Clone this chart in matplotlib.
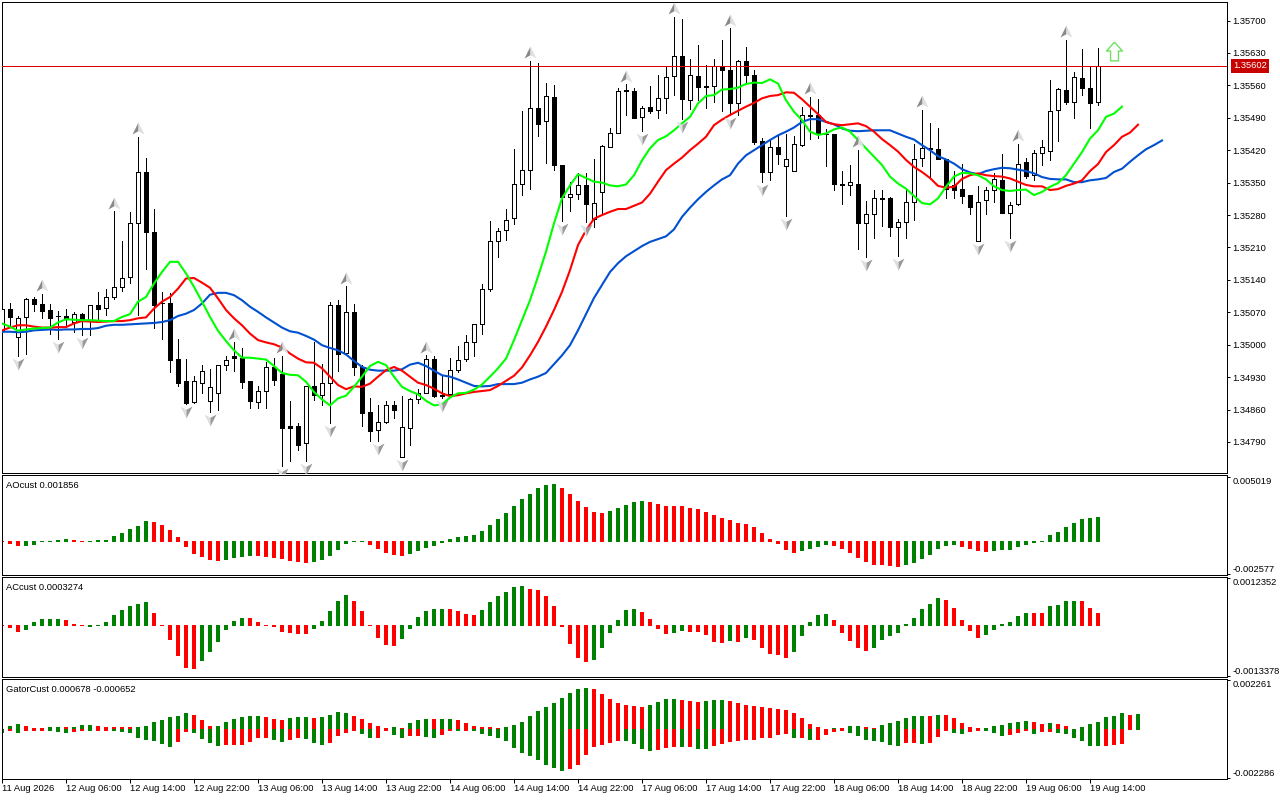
import matplotlib
matplotlib.use('Agg')
import matplotlib.pyplot as plt
from matplotlib.path import Path
import numpy as np

# candles, in 1e-5 price units
opens = [135031,135078,135016,135059,135098,135087,135074,135063,135063,135049,135067,135053,135085,135080,135103,135124,135147,135262,135372,135243,
         135091,135089,134969,134921,134877,134918,134879,134896,134957,134975,134972,134921,134877,134899,134951,134936,134824,134825,134787,134910,
         134892,134918,135085,134983,135070,134952,134854,134815,134833,134869,134758,134821,134882,134896,134970,134890,134893,134946,134969,135005,
         135044,135121,135223,135247,135273,135348,135378,135512,135482,135534,135387,135319,135326,135344,135272,135329,135426,135458,135549,135547,
         135491,135514,135506,135532,135581,135624,135529,135581,135558,135558,135601,135594,135521,135612,135583,135439,135372,135426,135385,135376,
         135431,135497,135497,135455,135455,135348,135345,135348,135263,135283,135316,135316,135255,135266,135309,135404,135424,135422,135402,135345,
         135336,135323,135224,135313,135335,135355,135285,135303,135394,135366,135413,135419,135506,135551,135525,135575,135555,135523]
closes = [135078,135060,135057,135098,135087,135073,135058,135061,135056,135067,135053,135085,135077,135102,135124,135145,135262,135372,135244,135086,
          135090,134967,134918,134875,134921,134944,134908,134957,134968,134972,134919,134879,134899,134951,134923,134820,134821,134783,134910,134892,
          134918,135085,134981,135070,134952,134853,134814,134834,134869,134859,134823,134882,134896,134970,134890,134892,134946,134968,135005,135044,
          135121,135223,135245,135270,135346,135378,135512,135477,135536,135388,135319,135326,135344,135303,135307,135429,135458,135547,135547,135490,
          135511,135505,135532,135579,135624,135531,135583,135557,135557,135601,135594,135521,135612,135583,135437,135373,135426,135412,135400,135434,
          135497,135494,135455,135454,135347,135345,135352,135263,135283,135316,135314,135255,135266,135309,135402,135424,135422,135400,135337,135335,
          135321,135298,135309,135333,135357,135285,135301,135391,135364,135413,135426,135504,135553,135524,135577,135555,135522,135602]
highs = [135078,135089,135062,135100,135103,135109,135088,135072,135077,135070,135069,135085,135113,135120,135288,135224,135286,135448,135404,135294,
         135113,135111,135012,134969,134933,134957,134947,134957,134975,135005,134992,134921,134910,134963,134971,134975,134878,134832,134911,135006,
         134959,135093,135096,135126,135087,134956,134886,134869,134878,134878,134890,134884,134905,134977,134975,134934,134972,134997,135021,135044,
         135131,135267,135253,135293,135422,135504,135612,135609,135566,135560,135389,135352,135370,135370,135402,135431,135467,135555,135562,135555,
         135516,135558,135582,135600,135707,135704,135616,135647,135605,135618,135658,135683,135614,135642,135594,135447,135445,135452,135456,135450,
         135514,135535,135530,135465,135455,135375,135388,135420,135310,135334,135334,135318,135271,135334,135433,135507,135479,135467,135402,135376,
         135391,135323,135342,135340,135370,135412,135309,135433,135404,135420,135443,135571,135555,135658,135588,135638,135600,135640]
lows = [135031,135042,134976,134979,135073,135058,135024,135012,135039,135028,135021,135021,135053,135064,135098,135116,135134,135064,135163,135036,
        135012,134941,134911,134872,134875,134896,134855,134859,134945,134943,134907,134864,134863,134864,134913,134738,134748,134772,134749,134880,
        134869,134831,134944,134983,134934,134825,134792,134792,134831,134841,134758,134783,134874,134895,134887,134884,134887,134941,134965,134975,
        135024,135116,135190,135226,135260,135323,135336,135451,135393,135377,135267,135289,135314,135265,135254,135283,135426,135458,135496,135490,
        135461,135501,135490,135501,135539,135487,135510,135528,135511,135524,135504,135496,135497,135564,135433,135352,135355,135391,135277,135376,
        135429,135444,135447,135386,135334,135304,135323,135206,135190,135231,135257,135235,135192,135231,135269,135386,135361,135400,135317,135316,
        135306,135282,135224,135283,135309,135285,135231,135301,135361,135355,135388,135398,135439,135520,135490,135539,135468,135518]

# alligator lines, in 1e-5 price units
jaw = [135028,135028,135027,135028,135031,135032,135033,135032,135033,135033,135034,135034,135036,135041,135043,135043,135044,135045,135046,135047,
       135049,135053,135062,135067,135075,135089,135108,135112,135112,135107,135096,135082,135071,135059,135048,135037,135029,135026,135019,135011,
       134999,134993,134988,134979,134965,134952,134946,134944,134944,134944,134947,134957,134961,134954,134944,134934,134931,134925,134918,134911,
       134910,134911,134915,134915,134915,134918,134925,134931,134939,134958,134977,134999,135031,135066,135101,135129,135157,135176,135191,135202,
       135213,135222,135228,135234,135249,135276,135296,135314,135330,135344,135357,135366,135391,135409,135420,135431,135442,135452,135460,135469,
       135481,135487,135487,135481,135476,135467,135462,135461,135462,135463,135463,135463,135456,135449,135443,135431,135420,135407,135400,135391,
       135379,135372,135368,135375,135379,135382,135381,135378,135375,135370,135362,135358,135357,135357,135351,135351,135355,135357,135360,135373,
       135380,135395,135409,135422,135431,135441]
teeth = [135031,135037,135042,135042,135039,135037,135037,135038,135038,135046,135051,135050,135049,135050,135051,135051,135053,135057,135059,135078,
         135093,135103,135121,135143,135144,135134,135123,135100,135075,135057,135042,135024,135010,135005,135001,134994,134981,134970,134962,134961,
         134949,134931,134913,134904,134910,134909,134916,134931,134945,134952,134944,134931,134918,134913,134905,134895,134889,134891,134895,134898,
         134900,134902,134911,134922,134933,134951,134977,135006,135039,135075,135114,135161,135215,135247,135272,135280,135287,135293,135293,135300,
         135307,135326,135352,135377,135391,135404,135420,135434,135449,135474,135486,135496,135505,135514,135522,135532,135537,135539,135545,135544,
         135530,135514,135498,135481,135476,135474,135476,135478,135472,135460,135444,135431,135417,135399,135384,135373,135360,135343,135339,135341,
         135358,135366,135370,135366,135364,135363,135359,135352,135345,135342,135342,135334,135336,135343,135348,135355,135375,135390,135416,135431,
         135449,135458,135475]
lips = [135046,135039,135030,135033,135035,135036,135037,135048,135055,135054,135053,135053,135052,135051,135051,135060,135066,135093,135103,135132,
        135157,135179,135179,135154,135125,135093,135060,135030,135008,134988,134972,134972,134970,134968,134954,134939,134935,134934,134920,134898,
        134882,134869,134884,134890,134909,134931,134954,134963,134956,134931,134909,134900,134893,134879,134869,134871,134886,134895,134896,134903,
        134914,134931,134949,134970,135010,135053,135096,135147,135201,135262,135316,135344,135368,135360,135352,135350,135344,135342,135346,135366,
        135398,135424,135442,135450,135463,135478,135492,135521,135537,135539,135551,135552,135555,135563,135566,135565,135573,135564,135528,135503,
        135485,135460,135453,135456,135465,135469,135460,135442,135424,135406,135388,135363,135348,135337,135321,135306,135303,135316,135341,135363,
        135371,135370,135366,135357,135342,135334,135332,135334,135335,135323,135330,135341,135349,135366,135391,135416,135445,135463,135492,135499,
        135514]

# fractal arrows, candle numbers
fractal_up = [5,14,17,29,35,43,53,66,78,84,91,101,107,115,127,133]
fractal_down = [2,7,10,23,26,35,38,41,47,50,55,70,73,80,85,91,95,98,108,112,122,126]
signal_k = 139
signal_price = 1.35635
last_price = 1.35602

price_ticks = [1.35700,1.35630,1.35560,1.35490,1.35420,1.35350,1.35280,1.35210,1.35140,1.35070,1.35000,1.34930,1.34860,1.34790]
time_labels = ['11 Aug 2026','12 Aug 06:00','12 Aug 14:00','12 Aug 22:00','13 Aug 06:00','13 Aug 14:00','13 Aug 22:00',
               '14 Aug 06:00','14 Aug 14:00','14 Aug 22:00','17 Aug 06:00','17 Aug 14:00','17 Aug 22:00',
               '18 Aug 06:00','18 Aug 14:00','18 Aug 22:00','19 Aug 06:00','19 Aug 14:00']

# AO histogram, in 1e-6
ao_values = [-26,-131,-314,-288,-209,-26,26,52,157,52,-26,26,52,52,393,628,942,1178,1571,1492,
             1257,864,314,-393,-942,-1178,-1414,-1492,-1414,-1257,-1178,-1100,-1100,-1178,-1257,-1335,-1492,-1571,-1649,-1571,
             -1414,-1100,-628,-157,-26,-26,-236,-550,-864,-1021,-1100,-942,-707,-471,-314,-52,157,314,393,471,
             785,1257,1728,2199,2749,3299,3691,4163,4398,4477,4163,3691,3142,2670,2278,2199,2356,2592,2827,3063,
             3142,3063,2906,2749,2749,2749,2592,2513,2278,2042,1806,1649,1414,1335,1100,628,157,-157,-628,-864,
             -707,-550,-393,-236,-314,-550,-864,-1257,-1571,-1806,-1806,-1885,-1964,-1806,-1649,-1335,-1021,-550,-314,-236,
             -393,-550,-707,-785,-707,-628,-628,-393,-236,-52,26,471,707,1100,1414,1728,1806,1856]
ao_colors = 'rrr'+'g'*6+'rr'+'g'*8+'r'*9+'g'*4+'r'*7+'g'*7+'r'*5+'g'*19+'r'*6+'g'*5+'r'*19+'g'*4+'r'*9+'g'*7+'r'*4+'g'*14

# AC histogram, in 1e-7
ac_values = [87,-436,-1484,-960,786,1571,1571,1571,1310,175,-87,-262,-87,786,2619,3929,4976,5500,6024,3143,
             -87,-3667,-7857,-11000,-11262,-9167,-6809,-4190,-1048,1048,1833,1833,786,-87,-175,-1571,-1833,-2095,-2095,-786,
             1048,3667,6286,7857,6286,3667,-87,-3143,-4976,-5238,-3405,-786,2095,3667,4190,4190,4190,3667,2881,2619,
             3929,6024,7595,8643,9952,10214,9428,9167,7595,4976,-175,-4714,-8381,-9428,-8905,-5762,-1833,1310,3929,4190,
             3405,1571,-786,-2095,-1833,-1310,-1571,-1571,-2357,-4190,-4452,-3929,-4190,-3143,-3667,-5762,-7333,-7595,-8381,-6809,
             -2619,786,2619,2881,1310,-1833,-3929,-5762,-6548,-5762,-3667,-2619,-1833,175,1833,4190,5500,7071,6548,4452,
             1310,-1310,-3143,-2357,-1048,175,786,2357,3143,3143,3143,4976,5238,6286,6286,6286,4452,3274]
ac_colors = 'rrr'+'g'*5+'rrr'+'g'*8+'r'*6+'g'*6+'r'*8+'g'*5+'r'*6+'g'*6+'r'*4+'g'*6+'r'*8+'g'*6+'r'*4+'gg'+'r'*5+'grg'+'r'*5+'g'*5+'r'*5+'g'*9+'r'*5+'g'*6+'rr'+'g'*4+'rrr'

# Gator histogram, in 1e-6
gator_up = [0,139,232,139,46,46,93,93,93,93,186,186,139,93,93,93,93,93,139,325,
            418,557,603,743,650,418,139,139,325,464,557,603,603,557,464,418,511,557,557,511,
            557,650,789,743,603,464,278,139,46,93,46,278,418,464,464,464,464,418,278,139,
            93,93,46,93,186,325,603,835,1021,1207,1439,1671,1856,1903,1856,1624,1392,1207,1114,1067,
            1021,1114,1253,1392,1392,1346,1299,1253,1299,1346,1346,1299,1207,1114,1067,1021,975,928,882,743,
            511,232,93,0,46,46,139,139,93,46,186,278,371,511,603,603,603,650,650,511,
            278,93,46,46,139,186,278,325,371,325,232,278,232,139,0,93,232,325,557,603,
            743,650,678]
gator_up_colors = 'ggg'+'rrr'+'gg'+'r'+'ggg'+'r'*5+'g'*7+'rrr'+'g'*6+'rrr'+'ggg'+'r'+'gggg'+'r'*5+'grggg'+'r'+'gg'+'r'*6+'g'*11+'r'*7+'gggg'+'rrr'+'ggg'+'r'*13+'grgg'+'rr'+'g'*6+'rg'+'r'*5+'g'*6+'rr'+'g'+'rr'+'g'*7+'rg'
gator_down = [-139,-46,-139,-46,-46,-46,-46,-93,-139,-93,-46,-46,-46,-46,-46,-93,-139,-371,-464,-511,
              -650,-789,-557,-93,-139,-418,-603,-743,-696,-696,-696,-557,-371,-371,-464,-557,-464,-371,-418,-603,
              -696,-603,-278,-139,-46,-186,-371,-371,-46,-232,-371,-278,-278,-325,-371,-232,-46,-46,-46,-46,
              -186,-278,-371,-511,-835,-1067,-1207,-1392,-1624,-1763,-1903,-1810,-1624,-1160,-789,-696,-603,-511,-511,-650,
              -882,-975,-928,-835,-789,-789,-789,-882,-882,-743,-650,-557,-511,-464,-464,-371,-371,-232,-186,-371,
              -371,-464,-464,-232,-93,-46,-139,-278,-464,-511,-557,-696,-743,-603,-603,-650,-603,-325,-46,-139,
              -186,-93,-46,-46,-139,-278,-232,-139,-46,-186,-93,-93,-139,-186,-371,-511,-743,-743,-743,-696,
              -652,0,0]
gator_down_colors = 'grg'+'rrr'+'ggg'+'rr'+'g'+'rr'+'g'*8+'rr'+'gggg'+'r'*6+'gg'+'rr'+'ggg'+'rrrr'+'gg'+'rr'+'gg'+'rr'+'gg'+'rr'+'g'+'r'+'g'*12+'r'*7+'gggg'+'rrr'+'g'+'r'+'gg'+'r'*10+'g'+'r'+'g'+'rrrr'+'g'*7+'rr'+'g'+'rrr'+'gg'+'rr'+'ggg'+'rrr'+'g'+'rr'+'g'*6+'rrr'+'gg'

FONT = 'Liberation Sans'
FS = 6.75
W, H = 1280, 800
LW = 0.72
palette = {'g': '#008000', 'r': '#ff0000'}

plt.rcParams['font.family'] = FONT
fig = plt.figure(figsize=(W / 100, H / 100), dpi=100, facecolor='white')


def panel(top, bottom):
    ax = fig.add_axes([2 / W, 1 - bottom / H, 1225 / W, (bottom - top) / H])
    ax.set_xlim(0, 1225 / 8)
    ax.set_xticks([])
    ax.yaxis.tick_right()
    ax.tick_params(axis='y', length=2.2, width=LW, pad=1.9, labelsize=FS, color='black')
    for s in ax.spines.values():
        s.set_linewidth(LW)
    return ax


def histogram(ax, values, colors):
    # bars sit one pixel left of the candle centre, the stroke keeps tiny values visible
    values = np.array(values, dtype=float)
    k = np.arange(len(values))
    keep = values != 0
    cols = [palette[c] for c in np.array(list(colors))[keep]]
    ax.bar(k[keep] - 0.0625, values[keep], width=0.375, color=cols, edgecolor=cols, linewidth=LW, antialiased=False)


def limits(ax, top_value, bottom_value, top_text, bottom_text):
    ax.set_yticks([bottom_value, top_value], [bottom_text, top_text])
    labels = ax.get_yticklabels()
    labels[0].set_verticalalignment('bottom')
    labels[1].set_verticalalignment('top')


def caption(ax, text):
    ax.annotate(text, xy=(0, 1), xycoords='axes fraction', xytext=(2.7, -4.0), textcoords='offset points',
                va='top', ha='left', fontsize=FS, color='black')


# main chart
ax = panel(2, 473)
ax.set_ylim(1.34723, 1.35740)

o = np.array(opens) * 1e-5
c = np.array(closes) * 1e-5
hi = np.array(highs) * 1e-5
lo = np.array(lows) * 1e-5
k = np.arange(len(o))
ax.vlines(k, lo, hi, color='black', linewidth=LW, antialiased=False, zorder=2)
is_up = c >= o
ax.bar(k, np.abs(c - o), bottom=np.minimum(o, c), width=0.5,
       color=['white' if u else 'black' for u in is_up], edgecolor='black', linewidth=LW, antialiased=False, zorder=3)

ax.axhline(last_price, color='#e00000', linewidth=LW, zorder=4)

for line, color in [(jaw, '#0050d0'), (teeth, '#ff0000'), (lips, '#00ff00')]:
    ax.plot(np.arange(len(line)), np.array(line) * 1e-5, color=color, linewidth=1.5, zorder=5)

up_left = Path([(0, 1), (-1, -1), (0, -0.45), (0, 1)])
up_right = Path([(0, 1), (1, -1), (0, -0.45), (0, 1)])
down_left = Path([(0, -1), (-1, 1), (0, 0.45), (0, -1)])
down_right = Path([(0, -1), (1, 1), (0, 0.45), (0, -1)])
y_up = hi[fractal_up] + 19e-5
y_down = lo[fractal_down] - 17e-5
for mk, col, xs, ys in [(up_left, '#8c8884', fractal_up, y_up), (up_right, '#dcdfe3', fractal_up, y_up),
                        (down_left, '#dcdfe3', fractal_down, y_down), (down_right, '#9a9a9a', fractal_down, y_down)]:
    ax.plot(xs, ys, linestyle='none', marker=mk, markersize=8.6, markerfacecolor=col, markeredgewidth=0, zorder=6)

arrow = Path([(0, 1), (0.85, 0.05), (0.42, 0.05), (0.42, -1), (-0.42, -1), (-0.42, 0.05), (-0.85, 0.05), (0, 1)])
ax.plot([signal_k], [signal_price], linestyle='none', marker=arrow, markersize=13.5,
        markerfacecolor='white', markeredgecolor='#70e060', markeredgewidth=1.0, zorder=6)

ax.set_yticks(price_ticks, ['%.5f' % p for p in price_ticks])
ax.annotate('%.5f' % last_price, xy=(1, last_price), xycoords=('axes fraction', 'data'), xytext=(4.3, 0),
            textcoords='offset points', va='center', ha='left', fontsize=FS, color='white', zorder=10,
            bbox=dict(boxstyle='square,pad=0.25', facecolor='#c80000', edgecolor='none'))

# AO
ax1 = panel(475, 575)
ax1.set_ylim(-0.002671, 0.005184)
histogram(ax1, np.array(ao_values) * 1e-6, ao_colors)
limits(ax1, 0.005019, -0.002577, '0.005019', '-0.002577')
caption(ax1, 'AOcust 0.001856')

# AC
ax2 = panel(577, 677)
ax2.set_ylim(-0.0013624, 0.0012576)
histogram(ax2, np.array(ac_values) * 1e-7, ac_colors)
limits(ax2, 0.0012352, -0.0013378, '0.0012352', '-0.0013378')
caption(ax2, 'ACcust 0.0003274')

# Gator
ax3 = panel(679, 779)
ax3.set_ylim(-0.002334, 0.002306)
histogram(ax3, np.array(gator_up) * 1e-6, gator_up_colors)
histogram(ax3, np.array(gator_down) * 1e-6, gator_down_colors)
limits(ax3, 0.002261, -0.002286, '0.002261', '-0.002286')
caption(ax3, 'GatorCust 0.000678 -0.000652')
ax3.set_xticks(np.arange(0, 8 * len(time_labels), 8), time_labels, fontsize=FS, ha='left')
ax3.tick_params(axis='x', length=2.9, width=LW, pad=0.8)

fig.savefig('out.png', dpi=100, facecolor='white')
